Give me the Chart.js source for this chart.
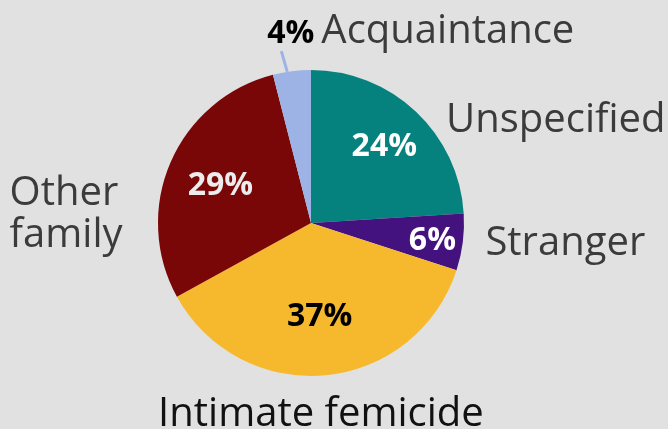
<!DOCTYPE html>
<html>
<head>
<meta charset="utf-8">
<script src="https://cdn.jsdelivr.net/npm/chart.js@4/dist/chart.umd.min.js"></script>
<style>
html,body{margin:0;padding:0;background:#e1e1e1;}
#wrap{width:668px;height:429px;position:relative;}
</style>
</head>
<body>
<div id="wrap"><canvas id="c" width="668" height="429"></canvas></div>
<script>
// Data
const categories = ["Unspecified", "Stranger", "Intimate femicide", "Other family", "Acquaintance"];
const shares = [24, 6, 37, 29, 4];
const pctLabels = ["24%", "6%", "37%", "29%", "4%"];

// Styles
const sliceColors = ["#06827e", "#43127f", "#f6b92d", "#790708", "#9db3e6"];
const pctColors = ["#ffffff", "#ffffff", "#000000", "#ececec", "#000000"];
const nameColors = ["#3b3b3b", "#3b3b3b", "#111111", "#3b3b3b", "#3b3b3b"];
// inner percent label radial factor (null = drawn outside)
const innerFactor = [0.7, 0.8, 0.6, 0.645, null];
// outside name label layout, relative to centre in radius units (baseline)
const nameLayout = [
  {dx: 0.883, dy: -0.595, align: "left"},
  {dx: 1.14, dy: 0.21, align: "left"},
  {dx: 0.065, dy: 1.33, align: "center"},
  {dx: -1.97, dy: -0.118, align: "left", lh: 0.275},
  {dx: 0.022, dy: -1.175, align: "left"}
];

const labelPlugin = {
  id: "pieLabels",
  afterDatasetsDraw(chart) {
    const ctx = chart.ctx;
    const meta = chart.getDatasetMeta(0);
    ctx.save();
    meta.data.forEach((arc, i) => {
      const p = arc.getProps(["x", "y", "startAngle", "endAngle", "outerRadius"], true);
      const r = p.outerRadius;
      const mid = (p.startAngle + p.endAngle) / 2;
      if (innerFactor[i] !== null) {
        const x = p.x + Math.cos(mid) * r * innerFactor[i];
        const y = p.y + Math.sin(mid) * r * innerFactor[i];
        ctx.font = "bold 32px 'Open Sans'";
        ctx.fillStyle = pctColors[i];
        ctx.textAlign = "center";
        ctx.textBaseline = "alphabetic";
        ctx.fillText(pctLabels[i], x, y + 11.4);
      }
      const L = nameLayout[i];
      const nx = p.x + L.dx * r;
      const ny = p.y + L.dy * r;
      ctx.textBaseline = "alphabetic";
      if (innerFactor[i] === null) {
        const a = mid - 0.03;
        ctx.strokeStyle = sliceColors[i];
        ctx.lineWidth = 3;
        ctx.beginPath();
        ctx.moveTo(p.x + Math.cos(a) * r, p.y + Math.sin(a) * r);
        ctx.lineTo(p.x + Math.cos(a - 0.015) * r * 1.14, p.y + Math.sin(a - 0.015) * r * 1.14);
        ctx.stroke();
        ctx.font = "bold 32px 'Open Sans'";
        ctx.fillStyle = pctColors[i];
        ctx.textAlign = "right";
        ctx.fillText(pctLabels[i], nx, ny);
        ctx.font = "40px 'Open Sans'";
        ctx.fillStyle = nameColors[i];
        ctx.textAlign = "left";
        ctx.fillText(categories[i], nx + 7, ny);
      } else {
        ctx.font = "40px 'Open Sans'";
        ctx.fillStyle = nameColors[i];
        ctx.textAlign = L.align;
        const words = L.lh ? categories[i].split(" ") : [categories[i]];
        words.forEach((w, k) => {
          ctx.fillText(w, nx, ny + k * (L.lh || 0) * r);
        });
      }
    });
    ctx.restore();
  }
};

new Chart(document.getElementById("c"), {
  type: "pie",
  data: {
    labels: categories,
    datasets: [{
      data: shares,
      backgroundColor: sliceColors,
      borderWidth: 0
    }]
  },
  options: {
    responsive: false,
    animation: false,
    layout: {padding: {top: 70, bottom: 53, left: 158, right: 204}},
    plugins: {legend: {display: false}, tooltip: {enabled: false}},
    events: []
  },
  plugins: [labelPlugin]
});
</script>
</body>
</html>
